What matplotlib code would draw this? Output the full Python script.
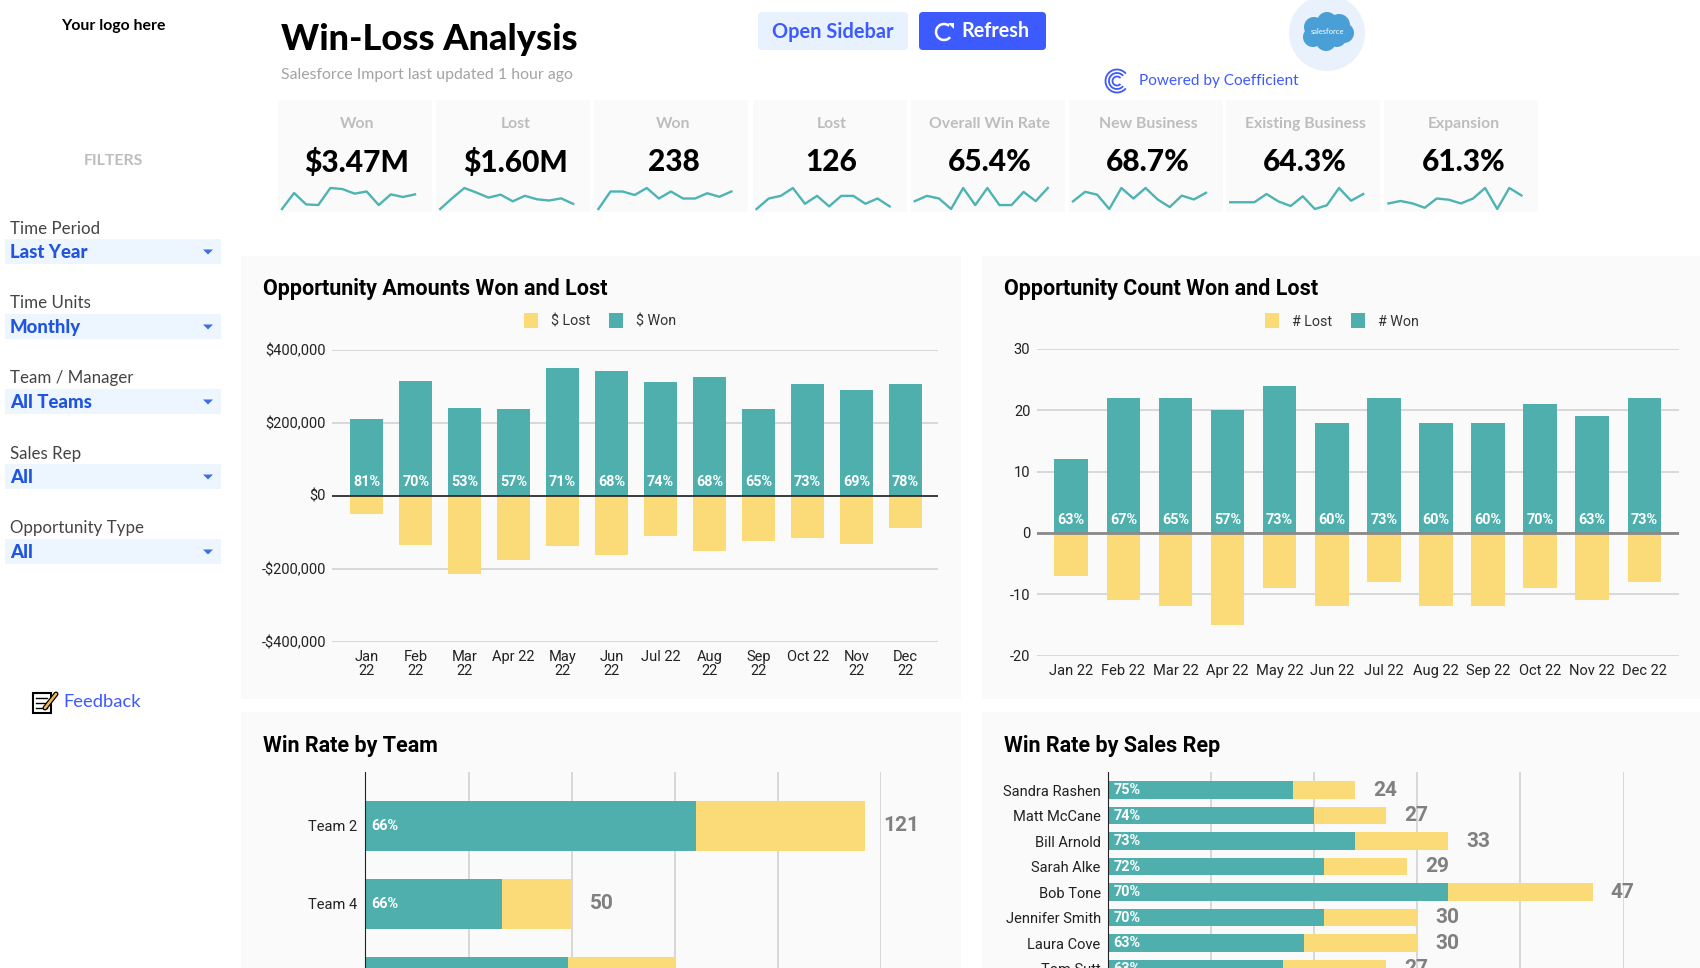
#!/usr/bin/env python3
"""
Win-Loss Analysis dashboard: KPI cards, won/lost bars and win rate bars.
"""

import matplotlib
matplotlib.use("Agg")
import matplotlib.pyplot as plt
from matplotlib.patches import Rectangle, FancyBboxPatch, Circle, Arc, Polygon


W, H = 1700, 968

TEAL = '#4fafac'
YELLOW = '#fadb78'
PANEL = '#fafafa'
GRID = '#d2d2d2'
BLUE = '#3d5afe'

months_wrapped = ['Jan\n22', 'Feb\n22', 'Mar\n22', 'Apr 22', 'May\n22', 'Jun\n22',
                  'Jul 22', 'Aug\n22', 'Sep\n22', 'Oct 22', 'Nov\n22', 'Dec\n22']
months = ['Jan 22', 'Feb 22', 'Mar 22', 'Apr 22', 'May 22', 'Jun 22',
          'Jul 22', 'Aug 22', 'Sep 22', 'Oct 22', 'Nov 22', 'Dec 22']

amount_won = [210000, 315000, 240000, 236000, 348000, 341000,
              311000, 325000, 236000, 306000, 289000, 306000]
amount_lost = [50000, 135000, 214000, 178000, 139000, 162000,
               110000, 153000, 126000, 116000, 133000, 90000]
amount_pct = ['81%', '70%', '53%', '57%', '71%', '68%', '74%', '68%', '65%', '73%', '69%', '78%']

count_won = [12, 22, 22, 20, 24, 18, 22, 18, 18, 21, 19, 22]
count_lost = [7, 11, 12, 15, 9, 12, 8, 12, 12, 9, 11, 8]
count_pct = ['63%', '67%', '65%', '57%', '73%', '60%', '73%', '60%', '60%', '70%', '63%', '73%']

overall_rate = [63, 67, 65, 57, 73, 60, 73, 60, 60, 70, 63, 73]
new_business = [64, 74, 71, 56, 78, 67, 78, 66, 58, 70, 66, 73]
existing_business = [59, 59, 59, 70, 60, 54, 67, 50, 55, 78, 61, 70]
expansion = [53, 57, 53, 46, 61, 59, 53, 61, 78, 44, 78, 66]

card_titles = ['Won', 'Lost', 'Won', 'Lost', 'Overall Win Rate', 'New Business',
               'Existing Business', 'Expansion']
card_values = ['$3.47M', '$1.60M', '238', '126', '65.4%', '68.7%', '64.3%', '61.3%']
card_sparks = [amount_won, amount_lost, count_won, count_lost, overall_rate,
               new_business, existing_business, expansion]

filter_labels = ['Time Period', 'Time Units', 'Team / Manager', 'Sales Rep', 'Opportunity Type']
filter_values = ['Last Year', 'Monthly', 'All Teams', 'All', 'All']

teams = ['Team 2', 'Team 4', '']
team_won = [80, 33, 49]
team_lost = [41, 17, 26]
team_pct = ['66%', '66%', '65%']

reps = ['Sandra Rashen', 'Matt McCane', 'Bill Arnold', 'Sarah Alke', 'Bob Tone',
        'Jennifer Smith', 'Laura Cove', 'Tom Sutt']
rep_won = [18, 20, 24, 21, 33, 21, 19, 17]
rep_lost = [6, 7, 9, 8, 14, 9, 11, 10]
rep_pct = ['75%', '74%', '73%', '72%', '70%', '70%', '63%', '63%']


def px_axes(fig, x0, y0, x1, y1):
    """Axes placed by pixel box, y measured from the top."""
    ax = fig.add_axes([x0 / W, 1 - y1 / H, (x1 - x0) / W, (y1 - y0) / H])
    ax.set_facecolor('none')
    return ax


def draw_header(bg):
    bg.text(113, 26, 'Your logo here', fontsize=11.4, fontweight='bold', ha='center', va='center')
    bg.text(281, 40, 'Win-Loss Analysis', fontsize=26, fontweight=900, va='center')
    bg.text(281, 75, 'Salesforce Import last updated 1 hour ago', fontsize=11.4, color='#a3a3a3', va='center')

    # Buttons
    bg.add_patch(FancyBboxPatch((761, 15), 144, 32, boxstyle='round,pad=3,rounding_size=4', fc='#e8f1fe', ec='none'))
    bg.text(833, 32, 'Open Sidebar', fontsize=14.4, fontweight='bold', color=BLUE, ha='center', va='center')
    bg.add_patch(FancyBboxPatch((922, 15), 121, 32, boxstyle='round,pad=3,rounding_size=4', fc=BLUE, ec='none'))
    bg.text(995, 31, 'Refresh', fontsize=14.2, fontweight='bold', color='white', ha='center', va='center')
    bg.add_patch(Arc((944, 32), 16, 16, theta1=-320, theta2=-50, color='white', lw=1.8))
    bg.add_patch(Polygon([[948, 23], [954, 23], [954, 29]], fc='white', ec='none'))

    # Salesforce badge
    bg.add_patch(Circle((1327, 33), 38, fc='#e8f1fc', ec='none'))
    for cx, cy, r in [(1314, 27, 10), (1327, 22, 10), (1339, 25, 11), (1344, 33, 10),
                      (1313, 37, 10), (1326, 41, 10), (1337, 38, 9), (1327, 31, 13)]:
        bg.add_patch(Circle((cx, cy), r, fc='#4a9fd6', ec='none'))
    bg.text(1328, 31, 'salesforce', fontsize=5.5, color='white', ha='center', va='center')

    # Powered by
    for d in [23, 16, 9]:
        bg.add_patch(Arc((1117, 81), d, d, theta1=40, theta2=320, color=BLUE, lw=1.3))
    bg.text(1139, 81.5, 'Powered by Coefficient', fontsize=11.1, color=BLUE, va='center')


def draw_sidebar(bg):
    bg.text(113, 161, 'FILTERS', fontsize=11.4, fontweight='bold', color='#bdbdbd', ha='center', va='center')
    for i, (label, value) in enumerate(zip(filter_labels, filter_values)):
        y = 227 + 75 * i
        bg.text(10, y + 1.5, label, fontsize=12.2, color='#444444', va='center')
        bg.add_patch(Rectangle((5, y + 12), 216, 25, fc='#edf5fe', ec='none'))
        bg.text(10, y + 25.5, value, fontsize=13.4, fontweight=900, color='#1f55e0', va='center')
        bg.add_patch(Polygon([[203, y + 22.5], [213, y + 22.5], [208, y + 27.5]], fc='#3f6fe0', ec='none'))

    # Feedback icon
    bg.add_patch(Rectangle((33, 693), 18, 20, fc='white', ec='black', lw=1.5))
    for ly in [698, 703, 708]:
        bg.plot([36, 47], [ly, ly], color='black', lw=1)
    bg.plot([45, 56], [708, 694], color='black', lw=3.6, solid_capstyle='round')
    bg.plot([45, 56], [708, 694], color='#f2b84b', lw=1.8, solid_capstyle='round')
    bg.text(63, 702, 'Feedback', fontsize=13.2, color=BLUE, va='center')


def draw_cards(fig, bg):
    for i, (title, value, spark) in enumerate(zip(card_titles, card_values, card_sparks)):
        x0 = 278 + i * 158.2 - (1 if i > 5 else 0)
        bg.add_patch(Rectangle((x0, 100), 154, 112, fc=PANEL, ec='none'))
        bg.text(x0 + 79, 124, title, fontsize=11.3, fontweight='bold', color='#bdbdbd', ha='center', va='center')
        bg.text(x0 + 79, 162, value, fontsize=21.5, fontweight=900, color='black', ha='center', va='center')
        ax = px_axes(fig, x0 + 4, 188, x0 + 137, 209)
        ax.plot(range(len(spark)), spark, color='#4db3b3', lw=1.7, clip_on=False)
        ax.set_xlim(0, len(spark) - 1)
        ax.set_ylim(min(spark), max(spark))
        ax.axis('off')


def draw_won_lost(fig, box, xlim, bar_width, labels, won, lost, pct, ticks, tick_fmt,
                  zero_style, legend_names, legend_x):
    ax = px_axes(fig, *box)
    x = list(range(len(labels)))
    lost_bars = ax.bar(x, [-v for v in lost], width=bar_width, color=YELLOW, label=legend_names[0], zorder=3)
    won_bars = ax.bar(x, won, width=bar_width, color=TEAL, label=legend_names[1], zorder=3)
    ax.set_yticks(ticks)
    ax.set_yticklabels([tick_fmt(t) for t in ticks], fontsize=10.5, color='#222222')
    ax.set_xticks(x)
    ax.set_xticklabels(labels, fontsize=10.5, color='#222222', linespacing=1.0)
    ax.set_xlim(*xlim)
    ax.set_ylim(ticks[0], ticks[-1])
    ax.tick_params(axis='both', length=0)
    ax.tick_params(axis='y', pad=4.5)
    ax.tick_params(axis='x', pad=6)
    ax.grid(True, axis='y', color=GRID, lw=1.2, zorder=0)
    ax.axhline(0, zorder=4, **zero_style)
    for spine in ax.spines.values():
        spine.set_visible(False)
    for xi, text in zip(x, pct):
        ax.annotate(text, xy=(xi, 0), xytext=(0, 9.5), textcoords='offset points', ha='center', va='center',
                    fontsize=10.4, fontweight='bold', color='white', zorder=5)
    fig.legend(handles=[lost_bars, won_bars], loc='center', bbox_to_anchor=(legend_x / W, 1 - 321 / H),
               ncol=2, frameon=False, fontsize=10.3, handlelength=1, handleheight=1.2, handletextpad=0.9,
               columnspacing=1.3, labelcolor='#333333')


def draw_win_rate(fig, box, xmax, step, row_lim, names, won, lost, pct, bar_height, label_pad):
    ax = px_axes(fig, *box)
    y = list(range(len(names)))
    total = [a + b for a, b in zip(won, lost)]
    ax.barh(y, won, height=bar_height, color=TEAL, zorder=3)
    ax.barh(y, lost, left=won, height=bar_height, color=YELLOW, zorder=3)
    ax.set_xticks(range(0, xmax + 1, step))
    ax.set_xticklabels([])
    ax.set_yticks(y)
    ax.set_yticklabels(names, fontsize=10.5, color='#222222')
    # ticks can widen the view, so the limits come after them
    ax.set_xlim(0, xmax)
    ax.set_ylim(*row_lim)
    ax.tick_params(axis='both', length=0)
    ax.tick_params(axis='y', pad=label_pad)
    ax.grid(True, axis='x', color=GRID, lw=1.2, zorder=0)
    ax.set_axisbelow(True)
    for name in ['top', 'right', 'bottom']:
        ax.spines[name].set_visible(False)
    ax.spines['left'].set_color('#222222')
    ax.spines['left'].set_zorder(5)
    for yi, p, t in zip(y, pct, total):
        ax.annotate(p, xy=(0, yi), xytext=(4, 0), textcoords='offset points', va='center',
                    fontsize=10.4, fontweight='bold', color='white', zorder=5)
        ax.annotate(str(t), xy=(t, yi), xytext=(13, 0), textcoords='offset points', va='center',
                    fontsize=15, fontweight='bold', color='#808080', zorder=5)


def main():
    plt.rcParams['font.family'] = ['Lato', 'DejaVu Sans']
    fig = plt.figure(figsize=(W / 100, H / 100), dpi=100, facecolor='white')

    # Pixel canvas for panels, cards and other page furniture
    bg = fig.add_axes([0, 0, 1, 1])
    bg.set_xlim(0, W)
    bg.set_ylim(H, 0)
    bg.axis('off')

    draw_header(bg)
    draw_sidebar(bg)
    draw_cards(fig, bg)

    panels = [(241, 256, 720, 443, 'Opportunity Amounts Won and Lost', 263, 289),
              (982, 256, 718, 443, 'Opportunity Count Won and Lost', 1004, 289),
              (241, 712, 720, 256, 'Win Rate by Team', 263, 746),
              (982, 712, 718, 256, 'Win Rate by Sales Rep', 1004, 746)]
    for px, py, pw, ph, title, tx, ty in panels:
        bg.add_patch(Rectangle((px, py), pw, ph, fc=PANEL, ec='none'))
        bg.text(tx, ty, title, fontsize=15.5, fontweight='bold', family='Roboto', va='center')

    plt.rcParams['font.family'] = ['Roboto', 'DejaVu Sans']

    def money(v):
        return f"${v:,.0f}" if v >= 0 else f"-${-v:,.0f}"

    draw_won_lost(fig, (332, 349.5, 938, 641.5), (-0.708, 11.66), 0.667, months_wrapped, amount_won, amount_lost,
                  amount_pct, [-400000, -200000, 0, 200000, 400000], money,
                  dict(color='#222222', lw=1.2), ['$ Lost', '$ Won'], 600)
    draw_won_lost(fig, (1036.6, 349, 1679, 655.5), (-0.665, 11.665), 0.645, months, count_won, count_lost,
                  count_pct, [-20, -10, 0, 10, 20, 30], lambda v: str(v),
                  dict(color='#8a8a8a', lw=2), ['# Lost', '# Won'], 1342)

    draw_win_rate(fig, (365.3, 772, 881.3, 968), 125, 25, (1.824, -0.688), teams, team_won, team_lost, team_pct, 0.64, 6)
    draw_win_rate(fig, (1107.6, 772, 1623.6, 1000), 50, 10, (8.235, -0.706), reps, rep_won, rep_lost, rep_pct, 0.68, 5)

    fig.savefig('out.png', dpi=100)


if __name__ == "__main__":
    main()
